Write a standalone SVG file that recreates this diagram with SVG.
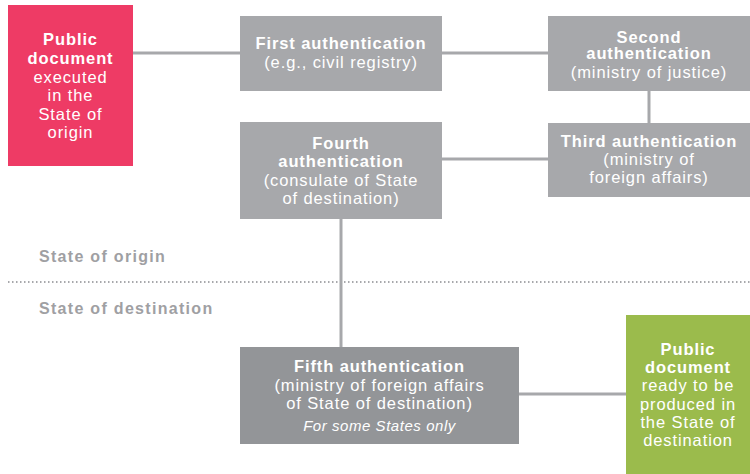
<svg xmlns="http://www.w3.org/2000/svg" width="750" height="474" viewBox="0 0 750 474">
<style>
text{font-family:"Liberation Sans",Arial,sans-serif;font-size:16.5px;letter-spacing:0.9px;fill:#fff;text-anchor:middle}
.b{font-weight:bold;letter-spacing:0.9px}
.i{font-style:italic;font-size:15px;letter-spacing:0.55px}
.lbl{fill:#9fa0a3;font-weight:bold;text-anchor:start;font-size:16px;letter-spacing:1.3px}
.g{fill:#a7a8ab}
.line{stroke:#a7a8ab;stroke-width:3;fill:none}
</style>
<rect width="750" height="474" fill="#fff"/>
<g id="connectors">
<line class="line" x1="133" y1="53" x2="240" y2="53"/>
<line class="line" x1="442" y1="53" x2="548" y2="53"/>
<line class="line" x1="649" y1="91" x2="649" y2="123"/>
<line class="line" x1="442" y1="159" x2="548" y2="159"/>
<line class="line" x1="341" y1="219" x2="341" y2="347"/>
<line class="line" x1="519" y1="394" x2="626" y2="394"/>
</g>
<g id="divider">
<line x1="8" y1="282" x2="750" y2="282" stroke="#a7a8ab" stroke-width="2" stroke-dasharray="1.5 2.5"/>
<text class="lbl" x="39" y="262">State of origin</text>
<text class="lbl" x="39" y="314">State of destination</text>
</g>
<g id="origin">
<rect x="8" y="5" width="125" height="161" fill="#ee3b65"/>
<text class="b" x="70.5" y="45">Public</text>
<text class="b" x="70.5" y="64">document</text>
<text x="70.5" y="83">executed</text>
<text x="70.5" y="101">in the</text>
<text x="70.5" y="120">State of</text>
<text x="70.5" y="138">origin</text>
</g>
<g id="first">
<rect class="g" x="240" y="16" width="202" height="75"/>
<text class="b" x="341" y="49">First authentication</text>
<text x="341" y="68">(e.g., civil registry)</text>
</g>
<g id="second">
<rect class="g" x="548" y="16" width="202" height="75"/>
<text class="b" x="649" y="43">Second</text>
<text class="b" x="649" y="59">authentication</text>
<text x="649" y="78">(ministry of justice)</text>
</g>
<g id="third">
<rect class="g" x="548" y="123" width="202" height="74"/>
<text class="b" x="649" y="147">Third authentication</text>
<text x="649" y="165">(ministry of</text>
<text x="649" y="183">foreign affairs)</text>
</g>
<g id="fourth">
<rect class="g" x="240" y="122" width="202" height="97"/>
<text class="b" x="341" y="149">Fourth</text>
<text class="b" x="341" y="167">authentication</text>
<text x="341" y="186">(consulate of State</text>
<text x="341" y="204">of destination)</text>
</g>
<g id="fifth">
<rect x="240" y="347" width="279" height="97" fill="#939598"/>
<text class="b" x="379.5" y="372">Fifth authentication</text>
<text x="379.5" y="391">(ministry of foreign affairs</text>
<text x="379.5" y="409">of State of destination)</text>
<text class="i" x="379.5" y="431">For some States only</text>
</g>
<g id="destination">
<rect x="626" y="315" width="124" height="159" fill="#9bbb4c"/>
<text class="b" x="688" y="355">Public</text>
<text class="b" x="688" y="373">document</text>
<text x="688" y="391">ready to be</text>
<text x="688" y="410">produced in</text>
<text x="688" y="428">the State of</text>
<text x="688" y="446">destination</text>
</g>
</svg>
